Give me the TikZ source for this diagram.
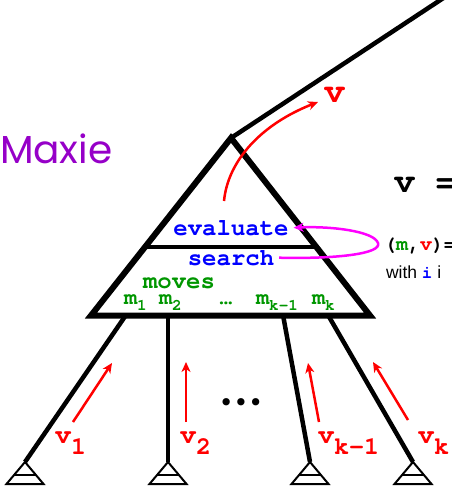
\documentclass[tikz,border=0pt]{standalone}
\usepackage{fontspec}
\setmainfont{Liberation Sans}
\newfontfamily\poppfont{Poppins}
\newfontfamily\dejafont{DejaVu Sans}
\newfontfamily\courfam{TeX Gyre Cursor}
\usetikzlibrary{arrows.meta,calc}
\newcommand\cour{\courfam\bfseries}
\newcommand\fsz[1]{\fontsize{#1}{#1}\selectfont}
\newcommand\lowr[3]{\raisebox{-#1pt}{\fontsize{#2}{#2}\selectfont #3}}
\definecolor{mgreen}{RGB}{0,150,0}
\definecolor{mpurple}{RGB}{150,0,200}
\definecolor{mblue}{RGB}{0,0,255}
\definecolor{mred}{RGB}{255,0,0}
\definecolor{mmag}{RGB}{255,0,255}
\tikzset{
  tri/.style={line width=6pt, line join=miter},
  midline/.style={line width=4pt},
  branch/.style={line width=4.5pt},
  leafline/.style={line width=2pt, line join=miter},
  redarr/.style={mred, line width=2.5pt, -{Stealth[length=10pt,width=9pt,inset=3pt]}},
  magarr/.style={mmag, line width=2.5pt, -{Stealth[length=10pt,width=9pt,inset=3pt]}},
  txt/.style={inner sep=0pt, outer sep=0pt},
  leaftri/.pic={
    \draw[leafline] (0,0) -- (-18.5,22) -- (18.5,22) -- cycle;
    \draw[leafline] (-11,13) -- (11,13);
  }
}
\begin{document}
\begin{tikzpicture}[x=1pt,y=-1pt]
\useasboundingbox (0,0) rectangle (452,487);
% main coordinates
\coordinate (apex) at (231,138);
\coordinate (bl) at (91,315.5);
\coordinate (br) at (370,315.5);
\coordinate (up) at (448,-5);
\coordinate (ml) at ($(apex)!0.614!(bl)$);
\coordinate (mr) at ($(apex)!0.614!(br)$);
% branch tops and leaves
\coordinate (b1) at (126,315);
\coordinate (b2) at (168,315);
\coordinate (b3) at (283,315);
\coordinate (b4) at (328,315);
\coordinate (l1) at (25,462);
\coordinate (l2) at (168,462);
\coordinate (l3) at (310,462);
\coordinate (l4) at (413,462);
\draw[branch] (b1) -- (l1);
\draw[branch] (b2) -- (l2);
\draw[branch] (b3) -- (l3);
\draw[branch] (b4) -- (l4);
\pic at (l1) {leaftri};
\pic at (l2) {leaftri};
\pic at (l3) {leaftri};
\pic at (l4) {leaftri};
% line up to parent
\draw[branch] (apex) -- (up);
% triangle
\draw[tri] (apex) -- (bl) -- (br) -- cycle;
\draw[midline] (ml) -- (mr);
% texts in triangle
\node[txt, anchor=base, mblue] (evaluate) at (231,235) {\cour\fsz{24}evaluate};
\node[txt, anchor=base, mblue] (search) at (231,265) {\cour\fsz{24}search};
\node[txt, anchor=base, mgreen] (moves) at (179,288) {\cour\fsz{24}moves};
\node[txt, anchor=base west, mgreen] (m1) at (124,304) {\cour\fsz{22}m\lowr{6}{16}{1}};
\node[txt, anchor=base west, mgreen] (m2) at (159,304) {\cour\fsz{22}m\lowr{6}{16}{2}};
\node[txt, anchor=base, mgreen] (mdots) at (226,304) {\cour\fsz{22}…};
\node[txt, anchor=base west, mgreen] (mk1) at (256,304) {\cour\fsz{22}m\lowr{6}{16}{k-1}};
\node[txt, anchor=base west, mgreen] (mk) at (312,304) {\cour\fsz{22}m\lowr{6}{16}{k}};
% magenta loop
\draw[magarr] ([xshift=5pt]search.east) .. controls (335,259) and (382,254) .. (378,243)
  .. controls (374,231) and (330,226) .. ([xshift=5pt]evaluate.east);
% top red arrow
\coordinate (ts) at (224,201);
\coordinate (te) at (318,102);
\draw[redarr] (ts) .. controls (228,160) and (262,124) .. (te);
\node[txt, anchor=base west, mred] (vtop) at (324,102) {\cour\fsz{35}v};
% title and right texts
\node[txt, anchor=base west, mpurple] (maxie) at (0,163) {\poppfont\fsz{39}Maxie};
\node[txt, anchor=base west] (veq) at (394,192) {\cour\fsz{35}v =};
\node[txt, anchor=base west] (mv) at (384,250) {\cour\fsz{20}(\textcolor{mgreen}{m},\textcolor{mred}{v})=};
\node[txt, anchor=base west] (with) at (386,278) {\fsz{17.5}with \textcolor{mblue}{\cour i} i};
% bottom red arrows
\coordinate (a1s) at (73,422);  \coordinate (a1e) at (112,363);
\coordinate (a2s) at (186,422); \coordinate (a2e) at (186,362);
\coordinate (a3s) at (319,422); \coordinate (a3e) at (308,363);
\coordinate (a4s) at (408,420); \coordinate (a4e) at (373,362);
\draw[redarr] (a1s) -- (a1e);
\draw[redarr] (a2s) -- (a2e);
\draw[redarr] (a3s) -- (a3e);
\draw[redarr] (a4s) -- (a4e);
\node[txt, anchor=base west, mred] (v1) at (55,443) {\cour\fsz{27}v\lowr{11}{25}{1}};
\node[txt, anchor=base west, mred] (v2) at (180,443) {\cour\fsz{27}v\lowr{11}{25}{2}};
\node[txt, anchor=base west, mred] (vk1) at (318,443) {\cour\fsz{27}v\lowr{11}{25}{k-1}};
\node[txt, anchor=base west, mred] (vk) at (418,443) {\cour\fsz{27}v\lowr{11}{25}{k}};
\node[txt] (dots) at (241,405) {\dejafont\fsz{25}•••};
\end{tikzpicture}
\end{document}
